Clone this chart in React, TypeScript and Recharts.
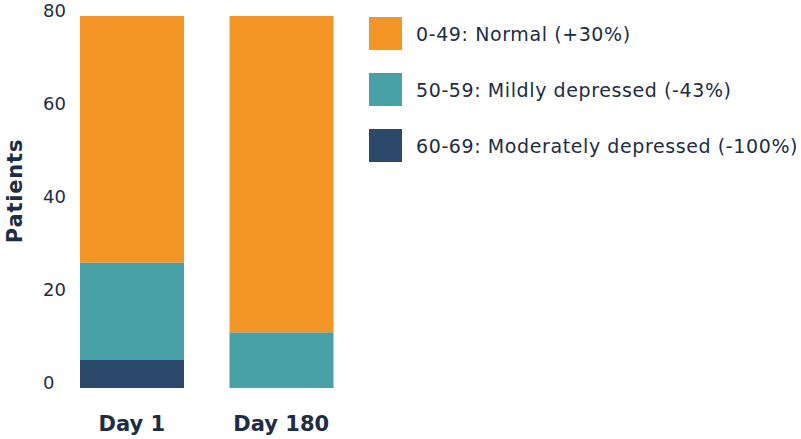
import { Bar, BarChart, XAxis, YAxis } from "recharts";

const days = ["Day 1", "Day 180"];
const normal = [53, 68];
const mild = [21, 12];
const moderate = [6, 0];
const yTicks = [0, 20, 40, 60, 80];

const series = [
  { key: "normal", name: "0-49: Normal (+30%)", color: "#F39627", values: normal },
  { key: "mild", name: "50-59: Mildly depressed (-43%)", color: "#48A1A6", values: mild },
  { key: "moderate", name: "60-69: Moderately depressed (-100%)", color: "#2B4A6B", values: moderate },
];

const data = days.map((day, i) => ({
  day,
  normal: normal[i],
  mild: mild[i],
  moderate: moderate[i],
}));

const FONT = "'DejaVu Sans', sans-serif";
const INK = "#1D2D44";

function YTick({ y, payload }: any) {
  // labels sit left-aligned and a little above their gridline
  return (
    <text x={43} y={y - 5} dy="0.35em" textAnchor="start" fontSize={18} fill={INK} fontFamily={FONT}>
      {payload.value}
    </text>
  );
}

function XTick({ x, y, payload }: any) {
  return (
    <text x={x} y={y + 35} textAnchor="middle" fontSize={21} fontWeight="bold" fill={INK} fontFamily={FONT}>
      {payload.value}
    </text>
  );
}

function YLabel({ viewBox }: any) {
  const cy = viewBox.y + viewBox.height / 2 - 11;
  const cx = 15;
  return (
    <text
      x={cx}
      y={cy}
      transform={`rotate(-90, ${cx}, ${cy})`}
      textAnchor="middle"
      dominantBaseline="central"
      fontSize={21}
      fontWeight="bold"
      letterSpacing={0.8}
      fill={INK}
      fontFamily={FONT}
    >
      Patients
    </text>
  );
}

export default function App() {
  return (
    <div style={{ position: "absolute", left: 0, top: 0, width: 801, height: 439, background: "#fff" }}>
      <BarChart
        width={801}
        height={439}
        data={data}
        margin={{ top: 16, right: 445, left: 0, bottom: 0 }}
      >
        <XAxis dataKey="day" axisLine={false} tickLine={false} height={51} tick={<XTick />} />
        <YAxis
          domain={[0, 80]}
          ticks={yTicks}
          axisLine={false}
          tickLine={false}
          width={57}
          tick={<YTick />}
          label={{ content: <YLabel /> }}
        />
        <Bar dataKey="moderate" stackId="a" fill="#2B4A6B" barSize={104} isAnimationActive={false} />
        <Bar dataKey="mild" stackId="a" fill="#48A1A6" barSize={104} isAnimationActive={false} />
        <Bar dataKey="normal" stackId="a" fill="#F39627" barSize={104} isAnimationActive={false} />
      </BarChart>
      <div style={{ position: "absolute", left: 369, top: 17 }}>
        {series.map((s) => (
          <div key={s.key} style={{ display: "flex", alignItems: "center", height: 33, marginBottom: 23 }}>
            <div style={{ width: 33, height: 33, background: s.color }} />
            <span
              style={{
                marginLeft: 14,
                fontSize: 19,
                letterSpacing: 0.6,
                color: INK,
                fontFamily: FONT,
                whiteSpace: "nowrap",
              }}
            >
              {s.name}
            </span>
          </div>
        ))}
      </div>
    </div>
  );
}
